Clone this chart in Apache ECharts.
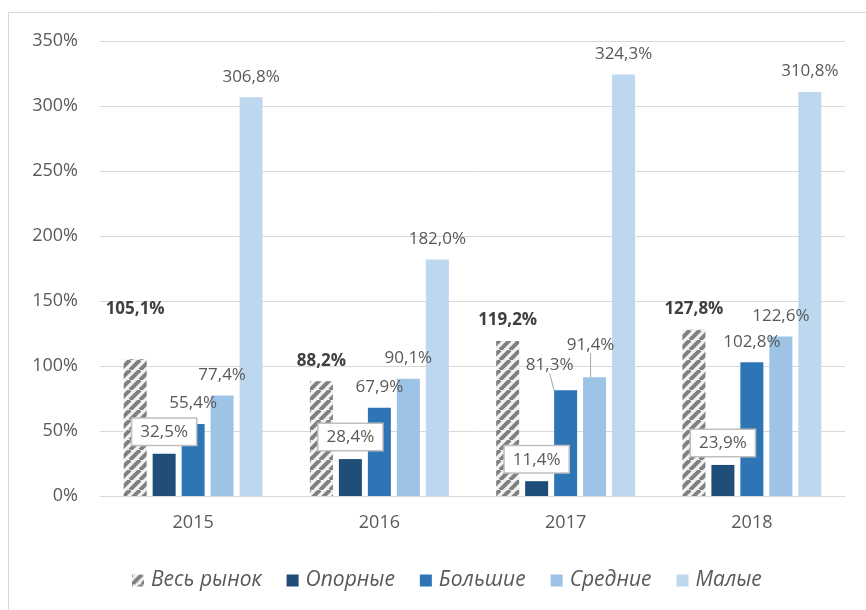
<!DOCTYPE html>
<html>
<head>
<meta charset="utf-8">
<script src="https://cdn.jsdelivr.net/npm/echarts@6/dist/echarts.min.js"></script>
<style>
  html, body { margin: 0; padding: 0; background: #fff; }
  #chart { width: 866px; height: 610px; }
</style>
</head>
<body>
<div id="chart"></div>
<script>
// Годы
const years = ['2015', '2016', '2017', '2018'];
// Названия серий
const seriesNames = ['Весь рынок', 'Опорные', 'Большие', 'Средние', 'Малые'];
// Значения, %
const marketAll = [105.1, 88.2, 119.2, 127.8];
const supportBanks = [32.5, 28.4, 11.4, 23.9];
const largeBanks = [55.4, 67.9, 81.3, 102.8];
const mediumBanks = [77.4, 90.1, 91.4, 122.6];
const smallBanks = [306.8, 182.0, 324.3, 310.8];
// Подписи оси Y
const yTicks = [0, 50, 100, 150, 200, 250, 300, 350];

const FONT = '"Open Sans", "Noto Sans", sans-serif';
const TXT = '#595959';

// Штриховка для столбцов «Весь рынок»
function hatch() {
  const s = 10;
  const c = document.createElement('canvas');
  c.width = s; c.height = s;
  const g = c.getContext('2d');
  g.fillStyle = '#f2f2f2';
  g.fillRect(0, 0, s, s);
  g.strokeStyle = '#808080';
  g.lineWidth = 4;
  g.beginPath();
  for (let k = -1; k <= 1; k++) {
    g.moveTo(k * s, s);
    g.lineTo(k * s + s, 0);
  }
  g.stroke();
  return { image: c, repeat: 'repeat' };
}

const fmt = v => v.toFixed(1).replace('.', ',') + '%';

const baseLabel = {
  show: true,
  position: 'top',
  distance: 12,
  fontFamily: FONT,
  fontSize: 17,
  color: TXT,
  formatter: p => fmt(p.value)
};

// Подпись вплотную к столбцу (отступ внутри прозрачной рамки подписи),
// чтобы выносная линия была видна только у сдвинутых подписей
const tightLabel = Object.assign({}, baseLabel, {
  distance: 0,
  padding: [0, 0, 12, 0],
  backgroundColor: 'rgba(255,255,255,0)'
});
const leader = { show: true, lineStyle: { color: '#a6a6a6', width: 1 } };
// У сдвинутой подписи рамка без отступа, чтобы линия шла от самого текста
const movedItem = (arr, idx) => arr.map((v, i) => i === idx ? { value: v, label: { padding: 0 } } : v);

const chart = echarts.init(document.getElementById('chart'), null, { renderer: 'canvas' });

const option = {
  animation: false,
  backgroundColor: '#fff',
  textStyle: { fontFamily: FONT },
  graphic: [{
    type: 'rect',
    shape: { x: 8.5, y: 12.5, width: 900, height: 700 },
    style: { fill: 'none', stroke: '#d9d9d9', lineWidth: 1 },
    silent: true,
    z: -10
  }],
  grid: { left: 100, right: 21, top: 41, bottom: 114, containLabel: false },
  legend: {
    top: 565,
    left: 127,
    itemWidth: 12,
    itemHeight: 12,
    itemGap: 25,
    icon: 'rect',
    textStyle: { fontFamily: FONT, fontSize: 21, fontStyle: 'italic', color: TXT, padding: [0, 0, 0, 2] },
    data: seriesNames
  },
  xAxis: {
    type: 'category',
    data: years,
    axisLine: { lineStyle: { color: '#d9d9d9', width: 1 } },
    axisTick: { show: false },
    axisLabel: { fontFamily: FONT, fontSize: 18, color: TXT, margin: 18 }
  },
  yAxis: {
    type: 'value',
    min: yTicks[0],
    max: yTicks[yTicks.length - 1],
    interval: 50,
    axisLine: { show: false },
    axisTick: { show: false },
    splitLine: { lineStyle: { color: '#d9d9d9', width: 1 } },
    axisLabel: { fontFamily: FONT, fontSize: 18, color: TXT, margin: 22, formatter: v => v + '%' }
  },
  series: [
    {
      name: seriesNames[0],
      type: 'bar',
      barWidth: 23,
      barGap: '26%',
      itemStyle: { color: hatch() },
      label: Object.assign({}, baseLabel, { fontWeight: 'bold', color: '#404040', distance: 12 }),
      data: marketAll.map((v, i) => i === 0 ? { value: v, label: { distance: 42 } } : v)
    },
    {
      name: seriesNames[1],
      type: 'bar',
      barWidth: 23,
      barGap: '26%',
      itemStyle: { color: '#1f4e79' },
      label: Object.assign({}, baseLabel, {
        distance: 9,
        backgroundColor: '#fff',
        borderColor: '#bfbfbf',
        borderWidth: 1.5,
        padding: [5, 8, 4, 8]
      }),
      data: supportBanks
    },
    {
      name: seriesNames[2],
      type: 'bar',
      barWidth: 23,
      barGap: '26%',
      itemStyle: { color: '#2e75b6' },
      label: tightLabel,
      labelLine: leader,
      labelLayout: p => p.dataIndex === 2 ? { dx: -16, dy: -17 } : {},
      data: movedItem(largeBanks, 2)
    },
    {
      name: seriesNames[3],
      type: 'bar',
      barWidth: 23,
      barGap: '26%',
      itemStyle: { color: '#9dc3e6' },
      label: tightLabel,
      labelLine: leader,
      labelLayout: p => p.dataIndex === 2 ? { dx: -4, dy: -24 } : {},
      data: movedItem(mediumBanks, 2)
    },
    {
      name: seriesNames[4],
      type: 'bar',
      barWidth: 23,
      barGap: '26%',
      itemStyle: { color: '#bdd7ee' },
      label: baseLabel,
      data: smallBanks
    }
  ]
};

chart.setOption(option);
</script>
</body>
</html>
